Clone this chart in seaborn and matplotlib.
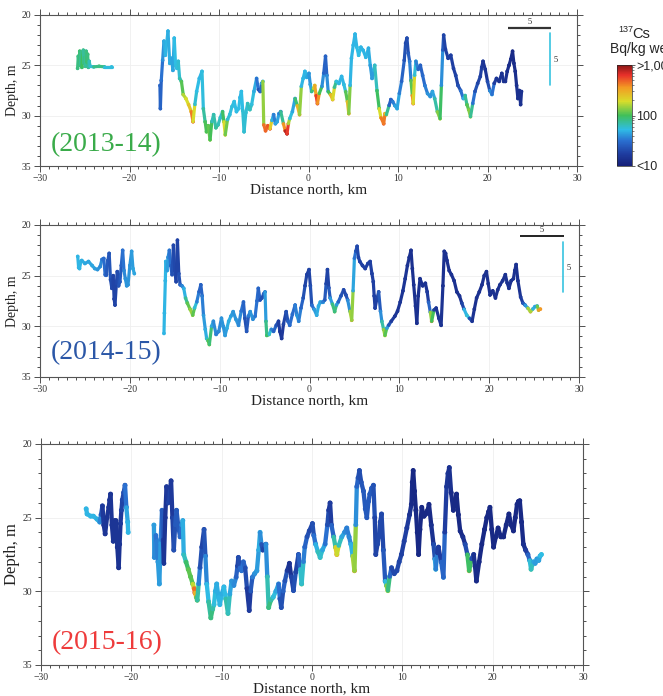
import numpy as np
import pandas as pd
import matplotlib
matplotlib.use('Agg')
import matplotlib.pyplot as plt
from matplotlib.collections import LineCollection
from matplotlib.colors import LogNorm, LinearSegmentedColormap
from matplotlib.cm import ScalarMappable
from matplotlib.ticker import MultipleLocator
import seaborn as sns

# ---- 2013-14 transect (distance km, depth m, 137Cs Bq/kg wet)
dist_13w = [-25.8, -25.72, -25.64, -25.56, -25.48, -25.4, -25.32, -25.24, -25.16, -25.08,
            -25.0, -24.92, -24.84, -24.76, -24.68, -24.6, -24.5, -24.4, -24.0, -23.4,
            -22.8, -22.0]
depth_13w = [25.3, 24.1, 25.0, 23.6, 24.9, 23.7, 25.2, 24.0, 23.5, 24.8,
             24.2, 25.1, 23.6, 24.7, 23.9, 25.2, 24.6, 25.1, 25.15, 25.1,
             25.15, 25.15]
cs_13w = [80, 90, 70, 100, 80, 70, 90, 110, 80, 70,
          90, 80, 70, 100, 90, 80, 70, 60, 55, 120,
          55, 55]

dist_13 = [-16.6, -16.55, -16.45, -16.3, -16.15, -16.0, -15.85, -15.7, -15.5, -15.3,
           -15.15, -15.0, -14.85, -14.7, -14.55, -14.4, -14.2, -14.0, -13.7, -13.4,
           -13.1, -12.9, -12.7, -12.5, -12.2, -11.9, -11.75, -11.55, -11.4, -11.2,
           -11.0, -10.8, -10.6, -10.35, -10.1, -9.85, -9.6, -9.45, -9.3, -9.05,
           -8.8, -8.55, -8.3, -8.05, -7.8, -7.65, -7.5, -7.35, -7.2, -7.0,
           -6.8, -6.55, -6.35, -6.1, -5.8, -5.6, -5.4, -5.25, -5.1, -5.0,
           -4.8, -4.55, -4.3, -4.1, -3.9, -3.7, -3.5, -3.3, -3.1, -2.8,
           -2.6, -2.4, -2.25, -2.1, -1.8, -1.5, -1.25, -1.0, -0.8, -0.6,
           -0.4, -0.2, 0.05, 0.2, 0.35, 0.55, 0.7, 0.85, 1.0, 1.2,
           1.5, 1.7, 1.9, 2.05, 2.2, 2.45, 2.7, 2.9, 3.1, 3.4,
           3.7, 3.95, 4.15, 4.35, 4.5, 4.65, 4.8, 5.0, 5.2, 5.4,
           5.6, 5.85, 6.1, 6.4, 6.7, 6.9, 7.1, 7.25, 7.4, 7.65,
           7.9, 8.1, 8.4, 8.55, 8.7, 9.0, 9.2, 9.4, 9.65, 9.9,
           10.15, 10.4, 10.7, 10.85, 11.0, 11.15, 11.3, 11.45, 11.6, 11.7,
           11.85, 12.0, 12.25, 12.5, 12.75, 13.0, 13.3, 13.6, 13.85, 14.1,
           14.4, 14.7, 14.85, 15.0, 15.1, 15.3, 15.6, 15.9, 16.2, 16.45,
           16.7, 17.0, 17.3, 17.5, 17.7, 17.9, 18.1, 18.35, 18.6, 18.9,
           19.2, 19.35, 19.5, 19.75, 20.0, 20.25, 20.5, 20.75, 21.0, 21.3,
           21.6, 21.8, 22.0, 22.2, 22.4, 22.6, 22.8, 22.95, 23.1, 23.25,
           23.4, 23.55, 23.7, 23.8]
depth_13 = [27.0, 29.3, 26.5, 24.5, 22.6, 24.0, 22.8, 21.6, 24.8, 24.3,
            25.5, 22.3, 25.0, 25.3, 24.6, 26.3, 26.6, 27.9, 28.3, 28.9,
            29.6, 30.6, 28.9, 27.6, 26.3, 25.6, 29.3, 30.6, 31.6, 31.0,
            32.4, 30.6, 29.9, 31.2, 30.9, 30.2, 29.6, 30.6, 31.9, 30.4,
            29.9, 29.1, 28.6, 29.6, 29.3, 28.2, 27.6, 29.5, 31.6, 29.7,
            28.8, 29.4, 28.9, 27.6, 26.3, 27.4, 27.6, 26.8, 26.6, 30.9,
            31.5, 31.0, 31.3, 30.5, 29.9, 30.8, 30.6, 29.8, 29.6, 30.8,
            31.5, 31.8, 30.8, 30.3, 29.6, 28.3, 29.0, 29.9, 27.1, 26.3,
            25.6, 26.2, 25.8, 26.9, 27.6, 27.3, 27.0, 28.0, 28.8, 27.8,
            27.1, 25.8, 24.1, 26.0, 27.6, 27.9, 28.4, 27.2, 26.6, 26.8,
            26.1, 26.9, 27.6, 28.6, 29.8, 27.0, 24.3, 23.0, 21.9, 23.2,
            24.0, 23.2, 23.5, 24.2, 23.3, 25.0, 26.3, 25.5, 25.0, 27.5,
            29.3, 30.2, 30.8, 29.8, 29.9, 29.0, 28.4, 28.6, 29.0, 29.3,
            27.8, 26.6, 24.5, 22.8, 22.3, 23.8, 24.6, 26.5, 28.0, 28.8,
            26.0, 24.6, 25.4, 25.0, 26.0, 27.0, 27.8, 28.1, 27.6, 28.3,
            29.6, 30.3, 27.0, 23.5, 22.0, 23.4, 24.3, 24.0, 25.3, 26.0,
            27.0, 27.5, 28.3, 28.0, 28.9, 29.4, 30.1, 28.8, 27.6, 26.8,
            26.1, 25.2, 24.6, 25.4, 26.6, 27.5, 27.9, 26.8, 26.3, 26.6,
            25.8, 26.6, 26.6, 25.6, 25.0, 24.4, 23.6, 24.8, 25.6, 27.0,
            28.3, 27.5, 28.9, 27.6]
cs_13 = [30, 25, 30, 35, 45, 50, 50, 50, 45, 50,
         40, 50, 55, 55, 55, 60, 80, 150, 180, 200,
         300, 600, 60, 55, 50, 50, 60, 90, 120, 90,
         150, 70, 60, 80, 70, 60, 60, 150, 250, 60,
         55, 55, 55, 50, 55, 50, 50, 55, 60, 55,
         60, 70, 55, 55, 40, 25, 20, 40, 50, 400,
         500, 450, 600, 80, 30, 40, 50, 40, 30, 200,
         700, 900, 400, 60, 50, 40, 200, 400, 50, 50,
         50, 50, 40, 40, 50, 150, 200, 500, 700, 200,
         50, 30, 25, 30, 50, 200, 400, 100, 60, 50,
         50, 50, 60, 200, 350, 50, 50, 50, 50, 50,
         55, 50, 50, 50, 50, 45, 40, 45, 50, 80,
         120, 300, 600, 300, 200, 30, 25, 30, 40, 50,
         40, 30, 25, 20, 20, 22, 30, 40, 300, 500,
         80, 40, 30, 25, 30, 30, 40, 40, 40, 50,
         100, 180, 50, 30, 20, 18, 18, 18, 18, 18,
         20, 25, 40, 60, 100, 120, 150, 40, 25, 20,
         18, 18, 15, 15, 15, 30, 50, 20, 15, 15,
         14, 15, 14, 14, 13, 13, 12, 13, 13, 14,
         14, 14, 14, 14]

# ---- 2014-15 transect
dist_14w = [-25.8, -25.7, -25.6, -25.45, -25.35, -25.0, -24.6, -24.2, -23.9, -23.6,
            -23.3, -23.1, -22.9, -22.75, -22.6, -22.45, -22.3, -22.15, -22.0, -21.85,
            -21.75, -21.65, -21.5, -21.4, -21.25, -21.1, -20.95, -20.8, -20.65, -20.5,
            -20.35, -20.2, -20.0, -19.8, -19.65, -19.5]
depth_14w = [23.1, 24.2, 24.3, 23.6, 23.5, 23.8, 23.6, 24.0, 24.3, 24.4,
             24.1, 23.4, 23.3, 24.9, 24.9, 23.5, 22.8, 25.4, 26.25, 25.0,
             27.3, 27.9, 25.8, 24.6, 26.0, 25.6, 24.0, 22.5, 24.5, 25.3,
             26.0, 25.9, 24.0, 22.6, 24.3, 24.8]
cs_14w = [50, 50, 50, 50, 50, 45, 45, 45, 45, 40,
          40, 35, 30, 30, 25, 25, 25, 22, 20, 20,
          18, 18, 20, 20, 22, 25, 25, 30, 35, 40,
          40, 40, 40, 40, 45, 45]

dist_14 = [-16.2, -16.15, -16.05, -16.0, -15.85, -15.75, -15.6, -15.45, -15.3, -15.15,
           -15.0, -14.85, -14.7, -14.55, -14.4, -14.2, -14.0, -13.8, -13.6, -13.3,
           -13.0, -12.8, -12.55, -12.3, -12.1, -11.95, -11.8, -11.6, -11.45, -11.3,
           -11.15, -10.9, -10.7, -10.4, -10.1, -9.8, -9.6, -9.4, -9.2, -9.0,
           -8.75, -8.5, -8.2, -7.9, -7.6, -7.35, -7.2, -7.0, -6.8, -6.6,
           -6.3, -6.05, -5.85, -5.7, -5.5, -5.3, -5.1, -4.95, -4.85, -4.75,
           -4.5, -4.25, -4.0, -3.7, -3.45, -3.3, -3.1, -2.9, -2.6, -2.4,
           -2.2, -1.9, -1.6, -1.4, -1.2, -0.95, -0.7, -0.5, -0.3, -0.05,
           0.1, 0.25, 0.5, 0.8, 1.0, 1.2, 1.45, 1.7, 1.85, 2.0,
           2.15, 2.3, 2.55, 2.8, 3.0, 3.2, 3.5, 3.8, 4.05, 4.25,
           4.5, 4.7, 4.85, 5.0, 5.15, 5.3, 5.45, 5.6, 5.9, 6.2,
           6.5, 6.75, 6.95, 7.1, 7.2, 7.3, 7.5, 7.7, 7.9, 8.05,
           8.25, 8.4, 8.6, 8.8, 9.1, 9.5, 9.8, 10.1, 10.4, 10.65,
           10.9, 11.1, 11.3, 11.45, 11.6, 11.8, 11.95, 12.1, 12.3, 12.6,
           12.9, 13.1, 13.25, 13.45, 13.6, 13.85, 14.1, 14.4, 14.65, 14.85,
           15.0, 15.15, 15.3, 15.55, 15.8, 16.1, 16.4, 16.7, 16.95, 17.2,
           17.5, 17.8, 18.1, 18.35, 18.6, 18.9, 19.2, 19.45, 19.7, 19.9,
           20.1, 20.4, 20.7, 20.95, 21.2, 21.5, 21.8, 22.0, 22.2, 22.45,
           22.7, 22.85, 23.0, 23.2, 23.5, 23.75, 24.0, 24.3, 24.6, 24.85,
           25.1, 25.35, 25.5, 25.7]
depth_14 = [30.7, 28.7, 25.5, 23.6, 24.5, 23.2, 22.5, 24.0, 24.9, 22.0,
            24.5, 25.6, 21.5, 24.8, 25.9, 26.0, 26.25, 27.2, 27.7, 28.3,
            28.9, 28.2, 27.6, 26.6, 25.9, 27.0, 28.9, 30.3, 31.2, 31.4,
            31.8, 30.0, 29.5, 30.8, 30.5, 29.2, 30.0, 30.9, 30.2, 29.5,
            29.0, 28.55, 29.3, 29.9, 28.5, 27.6, 29.2, 30.5, 29.0, 28.55,
            29.3, 29.0, 27.5, 26.25, 27.4, 27.2, 26.8, 26.6, 29.5, 30.9,
            30.8, 30.3, 30.5, 29.9, 29.5, 30.5, 31.2, 29.8, 28.55, 29.5,
            29.9, 28.8, 27.9, 28.9, 29.5, 28.2, 27.2, 26.0, 24.9, 24.4,
            26.0, 27.9, 28.3, 28.9, 28.0, 27.6, 27.6, 27.4, 25.8, 24.4,
            26.2, 27.2, 27.8, 28.55, 27.9, 27.6, 27.0, 26.4, 26.9, 27.4,
            28.5, 29.4, 26.5, 23.3, 22.6, 22.1, 23.2, 23.6, 24.0, 24.3,
            23.8, 23.6, 24.8, 25.6, 27.0, 28.2, 27.3, 26.6, 28.5, 29.5,
            30.3, 30.9, 30.2, 29.9, 29.5, 29.0, 28.5, 27.6, 26.5, 25.3,
            24.0, 23.2, 22.5, 24.3, 25.9, 28.0, 29.7, 27.0, 25.3, 26.0,
            25.75, 26.6, 27.6, 28.6, 29.5, 28.4, 28.2, 29.2, 29.9, 26.0,
            22.6, 22.8, 23.5, 24.5, 24.9, 25.5, 26.6, 27.0, 27.7, 28.3,
            28.9, 29.2, 29.5, 28.3, 27.2, 26.6, 25.9, 25.0, 24.6, 25.8,
            26.9, 26.5, 27.2, 26.4, 25.9, 25.5, 24.9, 25.7, 26.25, 25.5,
            25.3, 24.5, 23.9, 25.5, 27.1, 27.7, 27.9, 28.2, 28.55, 28.3,
            28.05, 28.0, 28.4, 28.3]
cs_14 = [50, 50, 50, 50, 45, 40, 35, 30, 25, 20,
         20, 20, 18, 20, 25, 35, 40, 60, 100, 130,
         160, 80, 40, 30, 25, 30, 40, 45, 50, 80,
         150, 50, 40, 35, 35, 40, 40, 40, 45, 50,
         45, 40, 40, 40, 35, 30, 25, 20, 30, 40,
         40, 35, 30, 30, 25, 20, 25, 30, 60, 110,
         80, 40, 30, 25, 20, 15, 15, 18, 20, 25,
         30, 30, 30, 40, 40, 30, 25, 20, 18, 18,
         20, 25, 40, 45, 50, 45, 40, 30, 20, 18,
         20, 30, 60, 120, 60, 30, 25, 20, 20, 25,
         60, 400, 50, 40, 25, 20, 20, 18, 18, 18,
         18, 18, 18, 18, 18, 18, 18, 20, 30, 50,
         100, 200, 60, 30, 18, 15, 15, 15, 15, 15,
         15, 14, 14, 14, 14, 14, 14, 14, 14, 14,
         14, 15, 20, 40, 500, 20, 15, 15, 15, 14,
         14, 14, 14, 14, 14, 14, 14, 14, 15, 25,
         100, 30, 15, 14, 14, 14, 14, 14, 14, 14,
         14, 14, 14, 14, 14, 14, 14, 14, 14, 14,
         14, 14, 14, 14, 15, 20, 30, 60, 400, 60,
         40, 50, 300, 400]

# ---- 2015-16 transect
dist_15w = [-25.0, -24.9, -24.5, -24.2, -23.8, -23.5, -23.35, -23.2, -23.05, -22.9,
            -22.7, -22.5, -22.4, -22.3, -22.15, -22.0, -21.85, -21.7, -21.55, -21.4,
            -21.3, -21.2, -21.1, -21.0, -20.85, -20.7, -20.55, -20.4, -20.35]
depth_15w = [24.4, 24.75, 24.9, 24.9, 25.1, 25.3, 24.8, 24.2, 25.5, 26.1,
             25.0, 24.3, 23.8, 23.4, 25.5, 26.6, 25.2, 25.2, 27.0, 28.4,
             26.8, 25.4, 24.5, 23.8, 23.3, 22.8, 24.3, 25.3, 26.0]
cs_15w = [50, 50, 50, 50, 50, 45, 30, 18, 15, 15,
          15, 15, 15, 15, 15, 15, 15, 15, 15, 14,
          15, 15, 18, 20, 20, 25, 40, 50, 50]

dist_15 = [-17.5, -17.45, -17.3, -17.2, -17.05, -16.9, -16.75, -16.6, -16.5, -16.4,
           -16.25, -16.1, -15.95, -15.8, -15.7, -15.6, -15.45, -15.3, -15.15, -15.0,
           -14.8, -14.6, -14.45, -14.3, -14.2, -13.95, -13.7, -13.45, -13.2, -13.05,
           -12.95, -12.8, -12.7, -12.55, -12.4, -12.2, -11.95, -11.8, -11.65, -11.45,
           -11.2, -11.0, -10.85, -10.7, -10.55, -10.35, -10.2, -10.0, -9.75, -9.55,
           -9.3, -9.1, -8.9, -8.65, -8.4, -8.25, -8.15, -8.0, -7.8, -7.6,
           -7.4, -7.2, -6.95, -6.8, -6.6, -6.35, -6.1, -5.9, -5.75, -5.6,
           -5.45, -5.25, -5.1, -4.95, -4.8, -4.55, -4.3, -4.0, -3.7, -3.55,
           -3.4, -3.2, -3.0, -2.75, -2.5, -2.3, -2.05, -1.8, -1.5, -1.3,
           -1.15, -0.95, -0.8, -0.55, -0.3, 0.05, 0.2, 0.4, 0.65, 0.9,
           1.15, 1.45, 1.7, 1.85, 2.0, 2.15, 2.4, 2.6, 2.75, 2.95,
           3.3, 3.6, 3.85, 4.1, 4.3, 4.5, 4.7, 4.85, 4.96, 5.1,
           5.25, 5.45, 5.7, 5.9, 6.07, 6.25, 6.4, 6.6, 6.8, 6.95,
           7.06, 7.25, 7.4, 7.55, 7.7, 7.9, 8.1, 8.25, 8.4, 8.6,
           8.8, 9.1, 9.4, 9.65, 9.9, 10.2, 10.5, 10.8, 11.0, 11.1,
           11.2, 11.35, 11.5, 11.65, 11.8, 11.95, 12.15, 12.4, 12.6, 12.8,
           12.95, 13.2, 13.45, 13.6, 13.7, 13.85, 14.0, 14.3, 14.55, 14.7,
           14.9, 15.05, 15.2, 15.4, 15.65, 15.85, 16.0, 16.2, 16.4, 16.7,
           16.95, 17.2, 17.4, 17.65, 17.9, 18.05, 18.2, 18.5, 18.8, 19.1,
           19.35, 19.55, 19.7, 19.9, 20.1, 20.35, 20.6, 20.9, 21.2, 21.5,
           21.8, 22.05, 22.3, 22.5, 22.7, 22.85, 23.0, 23.2, 23.4, 23.65,
           23.9, 24.1, 24.25, 24.5, 24.7, 24.9, 25.1, 25.25, 25.4]
depth_15 = [25.5, 27.7, 26.2, 26.6, 28.0, 29.5, 26.5, 24.5, 26.5, 28.1,
            25.0, 22.9, 24.0, 23.8, 23.0, 22.5, 25.0, 27.2, 25.5, 24.5,
            25.6, 26.3, 25.5, 25.2, 27.5, 28.0, 28.5, 29.0, 29.5, 29.8,
            30.1, 30.4, 30.6, 29.5, 28.4, 27.0, 25.8, 27.6, 29.5, 30.7,
            31.8, 31.2, 30.9, 30.0, 29.5, 30.4, 30.9, 30.2, 29.7, 30.5,
            31.5, 30.2, 29.3, 29.6, 29.05, 28.3, 27.7, 28.4, 28.6, 28.0,
            28.4, 29.8, 31.3, 30.0, 29.05, 28.8, 28.6, 27.2, 26.0, 26.8,
            27.2, 26.9, 26.8, 29.0, 31.1, 30.6, 30.4, 30.0, 29.5, 30.5,
            31.1, 30.0, 29.3, 28.6, 28.1, 29.0, 29.95, 28.7, 27.5, 28.5,
            29.5, 28.0, 27.0, 26.3, 25.9, 25.4, 26.2, 26.8, 27.3, 27.7,
            27.2, 26.8, 25.5, 24.5, 24.0, 25.5, 26.3, 27.0, 27.5, 26.9,
            26.3, 26.0, 25.7, 26.3, 26.8, 27.6, 28.6, 25.5, 22.9, 22.3,
            21.8, 22.6, 23.2, 24.4, 25.0, 23.9, 23.4, 23.0, 22.8, 25.0,
            27.5, 26.8, 26.3, 25.3, 24.75, 27.2, 29.3, 29.6, 29.95, 29.0,
            28.4, 28.8, 28.6, 28.0, 27.5, 26.6, 25.7, 24.8, 24.1, 22.6,
            21.8, 23.2, 24.5, 26.0, 27.5, 25.8, 24.3, 24.9, 24.75, 24.5,
            24.1, 25.5, 26.8, 27.8, 28.5, 27.4, 27.0, 28.0, 29.05, 26.0,
            22.9, 22.0, 21.6, 23.3, 24.5, 23.8, 23.4, 24.8, 25.9, 26.3,
            26.8, 27.5, 28.6, 27.8, 27.5, 28.3, 29.3, 28.0, 26.8, 25.8,
            25.0, 24.6, 24.3, 25.8, 27.0, 26.3, 25.7, 26.3, 26.3, 25.5,
            24.75, 25.5, 25.9, 25.0, 24.1, 23.9, 23.85, 25.3, 26.8, 27.2,
            27.5, 27.9, 28.5, 28.0, 28.1, 27.8, 27.9, 27.6, 27.5]
cs_15 = [45, 40, 35, 30, 40, 45, 40, 30, 20, 15,
         15, 15, 18, 20, 18, 15, 18, 20, 25, 25,
         25, 25, 35, 45, 50, 80, 110, 120, 100, 300,
         700, 120, 100, 50, 25, 20, 18, 30, 45, 60,
         90, 80, 60, 50, 45, 50, 50, 50, 45, 60,
         80, 50, 40, 40, 35, 20, 18, 25, 35, 30,
         25, 18, 15, 20, 30, 40, 40, 45, 50, 30,
         18, 20, 30, 50, 90, 80, 60, 50, 40, 25,
         20, 25, 30, 18, 14, 15, 25, 20, 18, 40,
         90, 40, 30, 25, 20, 20, 25, 40, 60, 70,
         50, 40, 25, 18, 15, 20, 40, 120, 400, 80,
         50, 40, 35, 35, 40, 60, 400, 50, 30, 25,
         20, 22, 25, 25, 25, 25, 25, 25, 25, 20,
         18, 20, 20, 20, 20, 20, 30, 100, 180, 40,
         20, 20, 20, 20, 18, 18, 18, 15, 13, 12,
         12, 12, 12, 12, 12, 12, 12, 12, 12, 12,
         12, 13, 15, 30, 60, 20, 15, 20, 40, 20,
         15, 15, 15, 13, 12, 12, 12, 12, 12, 13,
         15, 30, 300, 30, 15, 13, 13, 12, 12, 12,
         12, 12, 12, 12, 12, 12, 12, 12, 12, 12,
         12, 12, 12, 12, 12, 12, 12, 12, 13, 15,
         20, 40, 80, 50, 40, 45, 40, 50, 55]

year_labels = ['(2013-14)', '(2014-15)', '(2015-16)']
year_colors = ['#3aab4a', '#2b57a7', '#ee3b3b']
cbar_ticks = [10, 100, 1000]
cbar_labels = ['<10', '100', '>1,000']

sns.set_style('ticks')
plt.rcParams['font.family'] = ['Liberation Serif', 'DejaVu Serif']

CMAP = LinearSegmentedColormap.from_list('cs', [
    (0.0, '#151f78'), (0.12, '#1f3da0'), (0.25, '#2a6fd0'), (0.36, '#2fbde6'),
    (0.5, '#3fbf5a'), (0.64, '#d8dd2b'), (0.78, '#f39a23'), (0.9, '#e8302a'),
    (1.0, '#8b1717')])
NORM = LogNorm(10, 1000)


def draw_track(ax, dist, depth, cs, lw):
    df = pd.DataFrame({'dist': dist, 'depth': depth, 'cs': cs})
    pts = df[['dist', 'depth']].to_numpy()
    segs = np.stack([pts[:-1], pts[1:]], axis=1)
    vals = np.sqrt(df['cs'].to_numpy()[:-1] * df['cs'].to_numpy()[1:])
    lc = LineCollection(segs, cmap=CMAP, norm=NORM, linewidths=lw,
                        capstyle='round', joinstyle='round')
    lc.set_array(vals)
    ax.add_collection(lc)
    sns.scatterplot(data=df, x='dist', y='depth', hue='cs', hue_norm=NORM,
                    palette=CMAP, s=(lw * 1.15) ** 2, linewidth=0, legend=False, ax=ax)


def style_axes(ax, ylab_size):
    ax.set_xlim(-30, 30)
    ax.set_ylim(35, 20)
    ax.xaxis.set_major_locator(MultipleLocator(10))
    ax.xaxis.set_minor_locator(MultipleLocator(1))
    ax.yaxis.set_major_locator(MultipleLocator(5))
    ax.yaxis.set_minor_locator(MultipleLocator(1))
    ax.tick_params(which='both', direction='out', top=True, right=True,
                   labelsize=7, colors='#333333', width=0.6, pad=2)
    ax.tick_params(which='major', length=4)
    ax.tick_params(which='minor', length=2)
    ax.grid(True, which='major', color='#efefef', lw=0.6)
    ax.set_axisbelow(True)
    ax.set_xlabel('Distance north, km', fontsize=11, labelpad=0, color='#222222')
    ax.set_ylabel('Depth, m', fontsize=ylab_size, labelpad=2, color='#222222')
    for s in ax.spines.values():
        s.set_color('#555555')
        s.set_linewidth(0.8)


fig = plt.figure(figsize=(6.63, 6.96), dpi=100)
W, H = 663.0, 696.0
ax1 = fig.add_axes([40 / W, 1 - 166 / H, 537 / W, 151 / H])
ax2 = fig.add_axes([40 / W, 1 - 377 / H, 539 / W, 152 / H])
ax3 = fig.add_axes([41 / W, 1 - 665 / H, 542 / W, 221 / H])

draw_track(ax1, dist_13w, depth_13w, cs_13w, 2.3)
draw_track(ax1, dist_13, depth_13, cs_13, 2.3)
draw_track(ax2, dist_14w, depth_14w, cs_14w, 2.3)
draw_track(ax2, dist_14, depth_14, cs_14, 2.3)
draw_track(ax3, dist_15w, depth_15w, cs_15w, 3.1)
draw_track(ax3, dist_15, depth_15, cs_15, 3.1)

for ax, lab, col, ys, ty in zip([ax1, ax2, ax3], year_labels, year_colors,
                                [10, 10, 12], [0.14, 0.16, 0.10]):
    style_axes(ax, ys)
    ax.text(0.02, ty, lab, transform=ax.transAxes, color=col, fontsize=20,
            ha='left', va='center')

# scale bars
ax1.plot([22.3, 27.1], [21.3, 21.3], color='#333333', lw=1.6, solid_capstyle='butt')
ax1.text(24.7, 21.05, '5', fontsize=6, ha='center', va='bottom')
ax1.plot([27.0, 27.0], [21.8, 27.0], color='#37c3e0', lw=1.2)
ax1.text(27.4, 24.5, '5', fontsize=6, ha='left', va='center')
ax2.plot([23.4, 28.3], [21.1, 21.1], color='#222222', lw=1.4, solid_capstyle='butt')
ax2.text(25.85, 20.85, '5', fontsize=6, ha='center', va='bottom')
ax2.plot([28.2, 28.2], [21.65, 26.6], color='#37c3e0', lw=1.2)
ax2.text(28.6, 24.2, '5', fontsize=6, ha='left', va='center')

# colour bar
cax = fig.add_axes([617 / W, 1 - 166 / H, 15 / W, 101 / H])
cb = fig.colorbar(ScalarMappable(norm=NORM, cmap=CMAP), cax=cax)
cb.set_ticks(cbar_ticks)
cb.set_ticklabels(cbar_labels)
cb.outline.set_linewidth(0.5)
cax.tick_params(which='major', labelsize=9, length=2, pad=1, width=0.5)
cax.tick_params(which='minor', length=1.5, width=0.4)
for t in cax.get_yticklabels():
    t.set_family('Liberation Sans')
fig.text(618 / W, 1 - 34 / H, '137', fontsize=6.5, family='Liberation Sans',
         ha='left', va='bottom')
fig.text(632 / W, 1 - 34 / H, 'Cs', fontsize=10.5, family='Liberation Sans',
         ha='left', va='center')
fig.text(610 / W, 1 - 49 / H, 'Bq/kg wet', fontsize=10, family='Liberation Sans',
         ha='left', va='center')

fig.savefig('out.png', dpi=100)
